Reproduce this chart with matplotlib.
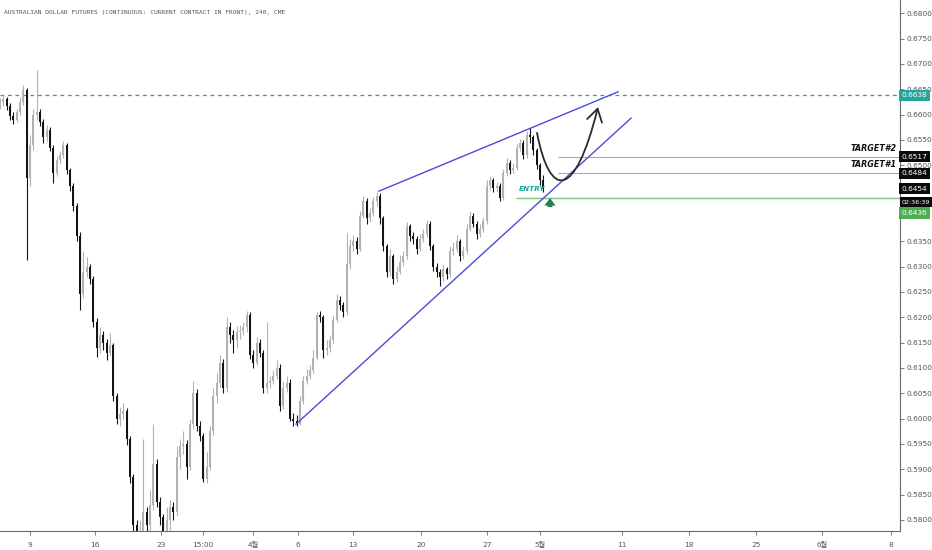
import matplotlib
matplotlib.use("Agg")
import matplotlib.pyplot as plt
import numpy as np
from matplotlib.path import Path
from matplotlib.patches import FancyArrowPatch

plt.rcParams['font.family'] = ['DejaVu Sans', 'Noto Sans CJK KR']

# 4h candles (close / high / low)
closes = [
    0.6625, 0.6630, 0.6618, 0.6598, 0.6590, 0.6605, 0.6625, 0.6648, 0.6475, 0.6540,
    0.6600, 0.6605, 0.6586, 0.6555, 0.6570, 0.6535, 0.6485, 0.6510, 0.6520, 0.6540,
    0.6490, 0.6460, 0.6420, 0.6360, 0.6245, 0.6290, 0.6300, 0.6275, 0.6190, 0.6140,
    0.6165, 0.6150, 0.6130, 0.6145, 0.6045, 0.6000, 0.6010, 0.6015, 0.5960, 0.5885,
    0.5790, 0.5750, 0.5770, 0.5815, 0.5790, 0.5830, 0.5910, 0.5835, 0.5805, 0.5760,
    0.5800, 0.5825, 0.5815, 0.5925, 0.5945, 0.5950, 0.5905, 0.5990, 0.6050, 0.5985,
    0.5965, 0.5880, 0.5905, 0.5975, 0.6045, 0.6070, 0.6110, 0.6060, 0.6180, 0.6165,
    0.6155, 0.6170, 0.6172, 0.6180, 0.6205, 0.6125, 0.6110, 0.6150, 0.6130, 0.6060,
    0.6070, 0.6075, 0.6085, 0.6100, 0.6025, 0.6060, 0.6070, 0.6000, 0.5995, 0.5990,
    0.6035, 0.6075, 0.6085, 0.6095, 0.6120, 0.6205, 0.6200, 0.6135, 0.6140, 0.6155,
    0.6195, 0.6235, 0.6225, 0.6210, 0.6305, 0.6340, 0.6350, 0.6335, 0.6400, 0.6430,
    0.6395, 0.6405, 0.6430, 0.6440, 0.6395, 0.6340, 0.6290, 0.6320, 0.6275, 0.6290,
    0.6310, 0.6320, 0.6380, 0.6360, 0.6355, 0.6335, 0.6355, 0.6365, 0.6385, 0.6340,
    0.6300, 0.6290, 0.6280, 0.6295, 0.6285, 0.6330, 0.6335, 0.6350, 0.6320, 0.6330,
    0.6375, 0.6400, 0.6385, 0.6365, 0.6375, 0.6390, 0.6460, 0.6470, 0.6455, 0.6460,
    0.6436, 0.6485, 0.6505, 0.6490, 0.6495, 0.6535, 0.6545, 0.6520, 0.6560, 0.6555,
    0.6530, 0.6500, 0.6470, 0.6454]

highs = [
    0.6632, 0.6638, 0.6634, 0.6622, 0.6605, 0.6612, 0.6635, 0.6658, 0.6652, 0.6560,
    0.6612, 0.6688, 0.6612, 0.6592, 0.6580, 0.6575, 0.6540, 0.6518, 0.6528, 0.6548,
    0.6545, 0.6495, 0.6466, 0.6425, 0.6368, 0.6330, 0.6318, 0.6306, 0.6282, 0.6198,
    0.6180, 0.6172, 0.6158, 0.6168, 0.6150, 0.6050, 0.6022, 0.6030, 0.6020, 0.5965,
    0.5890, 0.5800, 0.5800, 0.5960, 0.5825, 0.5860, 0.5990, 0.5920, 0.5845, 0.5812,
    0.5825, 0.5840, 0.5835, 0.5945, 0.5960, 0.5975, 0.5958, 0.6000, 0.6075, 0.6058,
    0.5995, 0.5972, 0.5935, 0.5985, 0.6060, 0.6090, 0.6125, 0.6118, 0.6200, 0.6190,
    0.6175, 0.6182, 0.6185, 0.6190, 0.6212, 0.6210, 0.6135, 0.6162, 0.6158, 0.6135,
    0.6190, 0.6085, 0.6095, 0.6115, 0.6108, 0.6075, 0.6085, 0.6078, 0.6012, 0.6008,
    0.6045, 0.6085, 0.6098, 0.6105, 0.6135, 0.6210, 0.6212, 0.6205, 0.6155, 0.6165,
    0.6205, 0.6245, 0.6242, 0.6230, 0.6366, 0.6355, 0.6362, 0.6358, 0.6410, 0.6440,
    0.6435, 0.6415, 0.6438, 0.6447, 0.6445, 0.6400, 0.6345, 0.6335, 0.6325, 0.6302,
    0.6322, 0.6330, 0.6388, 0.6385, 0.6368, 0.6360, 0.6365, 0.6375, 0.6392, 0.6390,
    0.6345, 0.6308, 0.6295, 0.6305, 0.6300, 0.6340, 0.6348, 0.6362, 0.6355, 0.6340,
    0.6385, 0.6410, 0.6405, 0.6390, 0.6385, 0.6398, 0.6470, 0.6478, 0.6475, 0.6468,
    0.6465, 0.6492, 0.6515, 0.6510, 0.6505, 0.6542, 0.6552, 0.6550, 0.6568, 0.6573,
    0.6560, 0.6535, 0.6505, 0.6480]

lows = [
    0.6612, 0.6618, 0.6610, 0.6590, 0.6582, 0.6585, 0.6600, 0.6620, 0.6313, 0.6460,
    0.6530, 0.6590, 0.6578, 0.6545, 0.6548, 0.6528, 0.6465, 0.6478, 0.6502, 0.6515,
    0.6482, 0.6450, 0.6410, 0.6350, 0.6215, 0.6238, 0.6280, 0.6265, 0.6180, 0.6121,
    0.6130, 0.6135, 0.6115, 0.6125, 0.6035, 0.5990, 0.5985, 0.6000, 0.5948, 0.5872,
    0.5700, 0.5690, 0.5720, 0.5760, 0.5740, 0.5770, 0.5820, 0.5825, 0.5790, 0.5710,
    0.5740, 0.5780, 0.5800, 0.5808, 0.5900, 0.5930, 0.5880, 0.5898, 0.5980, 0.5975,
    0.5955, 0.5875, 0.5872, 0.5898, 0.5968, 0.6030, 0.6060, 0.6050, 0.6052, 0.6150,
    0.6130, 0.6140, 0.6158, 0.6165, 0.6170, 0.6118, 0.6100, 0.6105, 0.6122, 0.6050,
    0.6050, 0.6060, 0.6068, 0.6078, 0.6015, 0.6018, 0.6052, 0.5995, 0.5985, 0.5986,
    0.5988, 0.6028, 0.6068, 0.6078, 0.6090, 0.6115, 0.6190, 0.6120, 0.6125, 0.6132,
    0.6150, 0.6190, 0.6215, 0.6200, 0.6205, 0.6295, 0.6330, 0.6325, 0.6330, 0.6395,
    0.6385, 0.6388, 0.6400, 0.6420, 0.6385, 0.6330, 0.6280, 0.6282, 0.6266, 0.6270,
    0.6285, 0.6302, 0.6315, 0.6350, 0.6345, 0.6325, 0.6330, 0.6348, 0.6358, 0.6332,
    0.6292, 0.6280, 0.6262, 0.6272, 0.6275, 0.6280, 0.6322, 0.6328, 0.6312, 0.6315,
    0.6325, 0.6370, 0.6378, 0.6355, 0.6358, 0.6368, 0.6385, 0.6452, 0.6448, 0.6448,
    0.6430, 0.6432, 0.6478, 0.6482, 0.6485, 0.6490, 0.6528, 0.6512, 0.6515, 0.6545,
    0.6520, 0.6492, 0.6462, 0.6448]

first_open = 0.6620

date_labels = ['9', '16', '23', '15:00', '4월', '6', '13', '20', '27', '5월',
               '11', '18', '25', '6월', '8']
date_pos = [9, 28.5, 48.3, 60.9, 75.9, 89.4, 105.9, 126.3, 146.1, 162,
            186.6, 206.7, 226.8, 246.6, 267.3]

resistance = 0.6638
target2 = 0.6517
target1 = 0.6484
entry = 0.6436
last_price = 0.6454
countdown = '02:36:39'

# wedge (bar, price) endpoints
upper_wedge = [(113.7, 0.6449), (185.4, 0.6645)]
lower_wedge = [(88.8, 0.5989), (189.3, 0.6593)]
# projected path (bezier control points)
path_pts = [(161.1, 0.6564), (165.0, 0.6432), (172.5, 0.6432), (179.4, 0.6615)]

title = 'AUSTRALIAN DOLLAR FUTURES (CONTINUOUS: CURRENT CONTRACT IN FRONT), 240, CME'

assert len(closes) == len(highs) == len(lows)

closes = np.array(closes)
opens = np.concatenate([[first_open], closes[:-1]])
highs = np.array(highs)
lows = np.array(lows)
x = np.arange(len(closes))

up_col = '#b2b2b2'
dn_col = '#141414'
teal = '#26a69a'
blue = '#4b4bd8'

fig = plt.figure(figsize=(9.32, 5.5), dpi=100)
ax = fig.add_axes([0, 19 / 550, 900 / 932, 531 / 550])

up = closes >= opens
cols = np.where(up, up_col, dn_col)
ax.vlines(x, lows, highs, colors=cols, lw=0.8, zorder=2)
body = np.abs(closes - opens)
body = np.maximum(body, 0.00008)
ax.bar(x, body, bottom=np.minimum(opens, closes), width=0.65, color=cols,
       lw=0, zorder=3)

# levels
ax.axhline(resistance, color=teal, lw=0.9, ls=(0, (3, 3)), zorder=1)
ax.hlines([target2, target1], 167.4, 270, color='#a8a8a8', lw=0.8, zorder=1)
ax.hlines(entry, 154.8, 270, color='#7cc67f', lw=1.0, zorder=1)

# wedge
for seg in (upper_wedge, lower_wedge):
    ax.plot([seg[0][0], seg[1][0]], [seg[0][1], seg[1][1]], color=blue, lw=1.0, zorder=4)

# projected move
p = Path(path_pts, [Path.MOVETO, Path.CURVE4, Path.CURVE4, Path.CURVE4])
arr = FancyArrowPatch(path=p, arrowstyle='->,head_length=0.9,head_width=0.55',
                      mutation_scale=10, color='#2b2b2b', lw=1.3, zorder=5)
ax.add_patch(arr)

# entry marker
ax.annotate('', xy=(165, 0.6441), xytext=(165, 0.6412),
            arrowprops=dict(arrowstyle='simple,head_width=0.8,head_length=0.55,tail_width=0.35',
                            color='#2e7d52', lw=0), zorder=5)
ax.text(155.7, 0.6453, 'ENTRY', color=teal, fontsize=5.3, fontweight='bold',
        fontstyle='italic', va='center', ha='left', zorder=6)
ax.text(269, target2 + 0.0016, 'TARGET#2', color='#111111', fontsize=5.8,
        fontweight='bold', fontstyle='italic', va='center', ha='right', zorder=6)
ax.text(269, target1 + 0.0017, 'TARGET#1', color='#111111', fontsize=5.8,
        fontweight='bold', fontstyle='italic', va='center', ha='right', zorder=6)

ax.text(0.005, 0.977, title, transform=ax.transAxes, fontsize=4.5,
        family='DejaVu Sans Mono', color='#555555', va='center', ha='left')

ax.set_xlim(0, 270)
ax.set_ylim(0.57781, 0.68263)

# axes styling like the trading view panes
for s in ('top', 'left'):
    ax.spines[s].set_visible(False)
ax.spines['right'].set_color('#6a6a6a')
ax.spines['bottom'].set_color('#6a6a6a')
ax.spines['right'].set_linewidth(0.8)
ax.spines['bottom'].set_linewidth(0.8)

yt = np.round(np.arange(0.58, 0.6801, 0.005), 4)
yt = [v for v in yt if v not in (0.64, 0.645)]
ax.yaxis.tick_right()
ax.set_yticks(yt)
ax.set_yticklabels(['%.4f' % v for v in yt])
ax.tick_params(axis='y', labelsize=5.3, colors='#6a6a6a', labelcolor='#555555',
               length=3, width=0.6, pad=2)
ax.set_xticks(date_pos)
ax.set_xticklabels(date_labels)
ax.tick_params(axis='x', labelsize=5.3, colors='#6a6a6a', labelcolor='#555555',
               length=3, width=0.6, pad=8.5)
for lbl in ax.get_xticklabels():
    lbl.set_verticalalignment('baseline')
    if '월' in lbl.get_text():
        lbl.set_fontfamily('Noto Sans CJK KR')
        lbl.set_fontsize(5.5)

# price labels on the scale
ytr = ax.get_yaxis_transform()
def tag(yv, txt, fc, fs=5.3):
    ax.text(1.002, yv, txt, transform=ytr, fontsize=fs, color='white',
            va='center', ha='left', clip_on=False, zorder=10,
            bbox=dict(boxstyle='square,pad=0.35', fc=fc, ec='none'))

tag(resistance, '%.4f' % resistance, teal)
tag(target2, '%.4f' % target2, '#0a0a0a')
tag(target1, '%.4f' % target1, '#0a0a0a')
tag(last_price, '%.4f' % last_price, '#0a0a0a')
tag(0.64275, countdown, '#0a0a0a', fs=4.6)
tag(0.64057, '%.4f' % entry, '#4caf50')

fig.savefig('out.png', dpi=100)
